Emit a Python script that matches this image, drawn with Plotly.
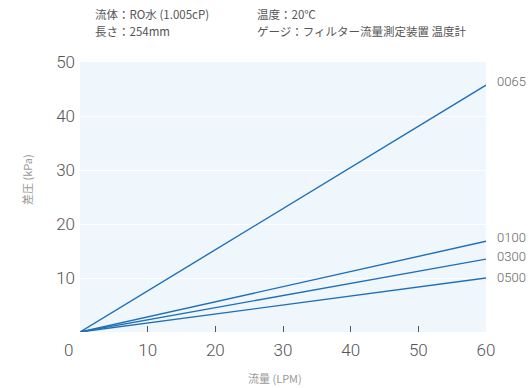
import plotly.graph_objects as go

# Flow vs. differential pressure for each element
flow_lpm = [0, 60]
series_names = ["0065", "0100", "0300", "0500"]
pressure_kpa = {
    "0065": [0, 45.7],
    "0100": [0, 16.8],
    "0300": [0, 13.5],
    "0500": [0, 10.0],
}
x_ticks = [10, 20, 30, 40, 50, 60]
y_ticks = [10, 20, 30, 40, 50]

header_left = ["流体：RO水 (1.005cP)", "長さ：254mm"]
header_right = ["温度：20℃", "ゲージ：フィルター流量測定装置 温度計"]

LINE_COLOR = "#1f6fb8"
TICK_FONT = dict(family="Roboto, Liberation Sans, sans-serif", size=17, color="#555555", weight=300)
JP_FONT = "Noto Sans CJK JP"

W, H = 529, 388
L, R, T, B = 80, 43, 62, 56
pw, ph = W - L - R, H - T - B


def px(x):
    return (x - L) / pw


def py(y):
    return (H - B - y) / ph


fig = go.Figure()
for name in series_names:
    fig.add_trace(go.Scatter(
        x=flow_lpm, y=pressure_kpa[name], mode="lines",
        line=dict(color=LINE_COLOR, width=1.4), name=name,
        hoverinfo="skip", showlegend=False,
    ))

annotations = []
# series labels at the right end of each line
label_shift = {"0065": 4, "0100": 4, "0300": 3, "0500": 1}
for name in series_names:
    annotations.append(dict(
        x=flow_lpm[-1], y=pressure_kpa[name][-1], xref="x", yref="y",
        text=name, showarrow=False, xanchor="left", yanchor="middle",
        xshift=9, yshift=label_shift[name],
        font=dict(family="Roboto, Liberation Sans, sans-serif", size=13,
                  color="#666666", weight=300),
    ))

# shared origin label
annotations.append(dict(
    x=px(68), y=py(350), xref="paper", yref="paper", text="0", showarrow=False,
    xanchor="center", yanchor="middle", font=TICK_FONT,
))

# axis titles
annotations.append(dict(
    x=px(27), y=py(180), xref="paper", yref="paper", text="差圧 (kPa)",
    showarrow=False, textangle=-90, xanchor="center", yanchor="middle",
    font=dict(family=JP_FONT, size=11, color="#9a9a9a"),
))
annotations.append(dict(
    x=px(275), y=py(378), xref="paper", yref="paper", text="流量 (LPM)",
    showarrow=False, xanchor="center", yanchor="middle",
    font=dict(family=JP_FONT, size=11, color="#9a9a9a"),
))

# header notes
for col_x, lines in ((93, header_left), (255, header_right)):
    for i, txt in enumerate(lines):
        annotations.append(dict(
            x=px(col_x), y=py(14 + 17 * i), xref="paper", yref="paper", text=txt,
            showarrow=False, xanchor="left", yanchor="middle",
            font=dict(family=JP_FONT, size=11.5, color="#555555"),
        ))

fig.update_layout(
    width=W, height=H,
    margin=dict(l=L, r=R, t=T, b=B),
    paper_bgcolor="white",
    plot_bgcolor="#eff7fc",
    annotations=annotations,
    xaxis=dict(
        range=[0, 60], tickvals=x_ticks, showgrid=False, zeroline=False,
        ticks="inside", ticklen=6, tickwidth=1, tickcolor="#555555",
        tickfont=TICK_FONT, ticklabelstandoff=6, showline=False,
    ),
    yaxis=dict(
        range=[0, 50], tickvals=y_ticks, showgrid=True, gridcolor="#ffffff",
        gridwidth=1, zeroline=False, ticks="", tickfont=TICK_FONT,
        ticklabelstandoff=4, showline=False,
    ),
)

fig.write_html("out.html")
